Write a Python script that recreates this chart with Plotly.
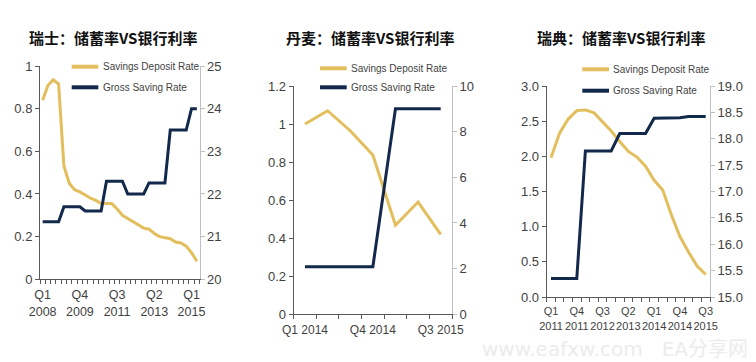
import plotly.graph_objects as go

W, H = 756, 362
OFF = 8  # the page body adds an 8px margin; compensate so marks land where intended

def px(x):
    return (x - OFF) / W

def py(y):
    return 1 - (y - OFF) / H

# ---------------- Data ----------------
# Switzerland (quarterly, Q1 2008 - Q2 2015)
ch_quarters = ["Q1 2008", "Q2 2008", "Q3 2008", "Q4 2008", "Q1 2009", "Q2 2009", "Q3 2009", "Q4 2009",
               "Q1 2010", "Q2 2010", "Q3 2010", "Q4 2010", "Q1 2011", "Q2 2011", "Q3 2011", "Q4 2011",
               "Q1 2012", "Q2 2012", "Q3 2012", "Q4 2012", "Q1 2013", "Q2 2013", "Q3 2013", "Q4 2013",
               "Q1 2014", "Q2 2014", "Q3 2014", "Q4 2014", "Q1 2015", "Q2 2015"]
ch_deposit = [0.84, 0.91, 0.935, 0.915, 0.53, 0.45, 0.42, 0.41, 0.395, 0.38,
              0.37, 0.355, 0.355, 0.355, 0.33, 0.30, 0.285, 0.27, 0.255, 0.24,
              0.235, 0.215, 0.20, 0.195, 0.19, 0.175, 0.17, 0.155, 0.125, 0.085]
ch_gross = [21.35, 21.35, 21.35, 21.35, 21.7, 21.7, 21.7, 21.7, 21.6, 21.6,
            21.6, 21.6, 22.3, 22.3, 22.3, 22.3, 22.0, 22.0, 22.0, 22.0,
            22.26, 22.26, 22.26, 22.26, 23.5, 23.5, 23.5, 23.5, 24.0, 24.0]
ch_ticklabels = ["Q1 2008", "Q4 2009", "Q3 2011", "Q2 2013", "Q1 2015"]

# Denmark (quarterly, Q1 2014 - Q3 2015)
dk_quarters = ["Q1 2014", "Q2 2014", "Q3 2014", "Q4 2014", "Q1 2015", "Q2 2015", "Q3 2015"]
dk_deposit = [1.0, 1.07, 0.965, 0.837, 0.468, 0.59, 0.42]
dk_gross = [2.08, 2.08, 2.08, 2.08, 9.0, 9.0, 9.0]
dk_ticklabels = ["Q1 2014", "Q4 2014", "Q3 2015"]

# Sweden (quarterly, Q1 2011 - Q3 2015)
se_quarters = ["Q1 2011", "Q2 2011", "Q3 2011", "Q4 2011", "Q1 2012", "Q2 2012", "Q3 2012", "Q4 2012",
               "Q1 2013", "Q2 2013", "Q3 2013", "Q4 2013", "Q1 2014", "Q2 2014", "Q3 2014", "Q4 2014",
               "Q1 2015", "Q2 2015", "Q3 2015"]
se_deposit = [1.98, 2.33, 2.53, 2.65, 2.66, 2.62, 2.49, 2.36, 2.21, 2.07,
              1.99, 1.86, 1.66, 1.52, 1.17, 0.86, 0.64, 0.44, 0.32]
se_gross = [15.35, 15.35, 15.35, 15.35, 17.77, 17.77, 17.77, 17.77, 18.10, 18.10,
            18.10, 18.10, 18.39, 18.39, 18.39, 18.40, 18.42, 18.42, 18.42]
se_ticklabels = ["Q1 2011", "Q4 2011", "Q3 2012", "Q2 2013", "Q1 2014", "Q4 2014", "Q3 2015"]

titles = ["瑞士：储蓄率VS银行利率", "丹麦：储蓄率VS银行利率", "瑞典：储蓄率VS银行利率"]
series_names = ["Savings Deposit Rate", "Gross Saving Rate"]

# ---------------- Style ----------------
YELLOW = "#E3BE5C"
NAVY = "#13294B"
AX_DARK = "#595959"
AX_LIGHT = "#BFBFBF"
TXT = "#3F3F3F"
SANS = "Liberation Sans, Arial, sans-serif"
CJK = "Noto Sans CJK SC, sans-serif"

panels = [
    dict(q=ch_quarters, dep=ch_deposit, gro=ch_gross, labels=ch_ticklabels, two_line=True, xfs=12.5,
         xpx=(40.0, 199.5), ypx=(66.0, 279.3),
         lrange=[0, 1], ltick=[0, 0.2, 0.4, 0.6, 0.8, 1], lfmt=None,
         rrange=[20, 25], rtick=[20, 21, 22, 23, 24, 25], rfmt=None,
         title_x=112.5, leg=(71.7, 98.3, 100.7, 66.7, 87.3)),
    dict(q=dk_quarters, dep=dk_deposit, gro=dk_gross, labels=dk_ticklabels, two_line=False, xfs=12,
         xpx=(293.7, 452.0), ypx=(86.0, 314.3),
         lrange=[0, 1.2], ltick=[0, 0.2, 0.4, 0.6, 0.8, 1, 1.2], lfmt=None,
         rrange=[0, 10], rtick=[0, 2, 4, 6, 8, 10], rfmt=None,
         title_x=369.5, leg=(320.0, 346.7, 349.0, 68.3, 87.3)),
    dict(q=se_quarters, dep=se_deposit, gro=se_gross, labels=se_ticklabels, two_line=True, xfs=11,
         xpx=(546.7, 710.0), ypx=(86.0, 297.0),
         lrange=[0, 3], ltick=[0, 0.5, 1, 1.5, 2, 2.5, 3], lfmt=".1f",
         rrange=[15, 19], rtick=[15, 15.5, 16, 16.5, 17, 17.5, 18, 18.5, 19], rfmt=".1f",
         title_x=620.7, leg=(582.3, 609.0, 610.7, 69.3, 90.7)),
]

fig = go.Figure()
layout = dict(
    width=W, height=H, margin=dict(l=0, r=0, t=0, b=0, pad=0, autoexpand=False),
    paper_bgcolor="white", plot_bgcolor="rgba(0,0,0,0)",
    showlegend=False, annotations=[], shapes=[],
)

for i, p in enumerate(panels):
    n = i + 1
    xname = "x" if n == 1 else f"x{n}"
    yl = 2 * n - 1
    yr = 2 * n
    ylname = "y" if yl == 1 else f"y{yl}"
    yrname = f"y{yr}"
    xs = list(range(len(p["q"])))

    fig.add_trace(go.Scatter(x=xs, y=p["dep"], name=series_names[0], mode="lines",
                             line=dict(color=YELLOW, width=3), xaxis=xname, yaxis=ylname,
                             customdata=p["q"], hovertemplate="%{customdata}: %{y}<extra></extra>"))
    fig.add_trace(go.Scatter(x=xs, y=p["gro"], name=series_names[1], mode="lines",
                             line=dict(color=NAVY, width=3), xaxis=xname, yaxis=yrname,
                             customdata=p["q"], hovertemplate="%{customdata}: %{y}<extra></extra>"))

    tickvals = [p["q"].index(l) for l in p["labels"]]
    if p["two_line"]:
        ticktext = [l.replace(" ", "<br>") for l in p["labels"]]
    else:
        ticktext = p["labels"]

    xd = [px(p["xpx"][0]), px(p["xpx"][1])]
    yd = [py(p["ypx"][1]), py(p["ypx"][0])]

    xkey = "xaxis" if n == 1 else f"xaxis{n}"
    ylkey = "yaxis" if yl == 1 else f"yaxis{yl}"
    yrkey = f"yaxis{yr}"

    layout[xkey] = dict(
        domain=xd, anchor=ylname, range=[-0.5, len(xs) - 0.5], automargin=False,
        tickmode="array", tickvals=tickvals, ticktext=ticktext, tickangle=0,
        ticks="", showgrid=False, zeroline=False,
        showline=True, linecolor=AX_DARK, linewidth=1,
        tickfont=dict(family=SANS, size=p["xfs"], color=TXT),
        ticklabelstandoff=4,
        minor=dict(tickmode="linear", tick0=-0.5, dtick=1, ticks="outside",
                   ticklen=4, tickcolor=AX_DARK, tickwidth=1, showgrid=False),
    )
    layout[ylkey] = dict(
        domain=yd, anchor=xname, range=p["lrange"], automargin=False,
        tickmode="array", tickvals=p["ltick"],
        ticks="outside", ticklen=4, tickcolor=AX_DARK, tickwidth=1,
        showline=True, linecolor=AX_DARK, linewidth=1,
        showgrid=False, zeroline=False,
        tickfont=dict(family=SANS, size=13, color=TXT),
    )
    if p["lfmt"]:
        layout[ylkey]["tickformat"] = p["lfmt"]
    layout[yrkey] = dict(
        domain=yd, anchor=xname, overlaying=ylname, side="right", range=p["rrange"], automargin=False,
        tickmode="array", tickvals=p["rtick"],
        ticks="outside", ticklen=4, tickcolor=AX_LIGHT, tickwidth=1,
        showline=True, linecolor=AX_LIGHT, linewidth=1,
        showgrid=False, zeroline=False,
        tickfont=dict(family=SANS, size=13, color=TXT),
    )
    if p["rfmt"]:
        layout[yrkey]["tickformat"] = p["rfmt"]

    # Title
    layout["annotations"].append(dict(
        text="<b>" + titles[i] + "</b>", x=px(p["title_x"]), y=py(37.7),
        xref="paper", yref="paper", xanchor="center", yanchor="middle",
        showarrow=False, font=dict(family=CJK, size=15, color="#111111")))

    # Legend (line samples + labels)
    x1, x2, xt, r1, r2 = p["leg"]
    for color, ry, name in [(YELLOW, r1, series_names[0]), (NAVY, r2, series_names[1])]:
        layout["shapes"].append(dict(type="line", xref="paper", yref="paper",
                                     x0=px(x1), x1=px(x2), y0=py(ry), y1=py(ry),
                                     line=dict(color=color, width=4)))
        layout["annotations"].append(dict(
            text=name, x=px(xt), y=py(ry), xref="paper", yref="paper",
            xanchor="left", yanchor="middle", showarrow=False,
            font=dict(family=SANS, size=10, color=TXT)))

# Watermark
layout["annotations"].append(dict(
    text="www.eafxw.com   EA分享网", x=px(750), y=py(349), xref="paper", yref="paper",
    xanchor="right", yanchor="middle", showarrow=False,
    font=dict(family="DejaVu Sans, Noto Sans CJK SC, sans-serif", size=20, color="#ECECEC")))

fig.update_layout(**layout)
fig.write_html("out.html")
